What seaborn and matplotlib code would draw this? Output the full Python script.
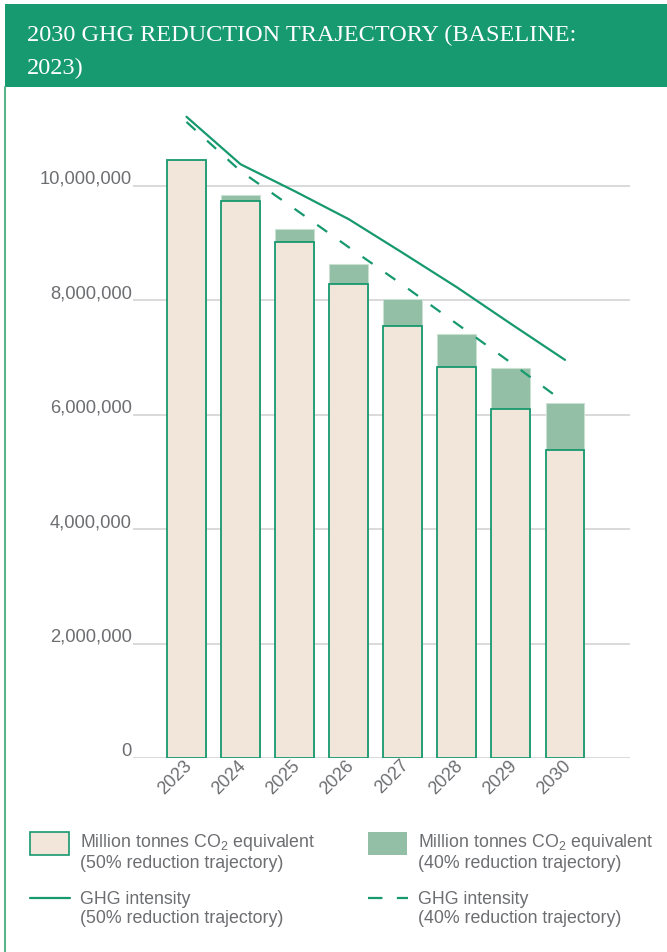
import matplotlib
matplotlib.use("Agg")
import matplotlib.pyplot as plt
import matplotlib.transforms as mtrans
from matplotlib.patches import Rectangle
from matplotlib.lines import Line2D
import numpy as np
import pandas as pd
import seaborn as sns

# ---------------- data ----------------
years = ["2023", "2024", "2025", "2026", "2027", "2028", "2029", "2030"]
emissions_50 = [10460000, 9730000, 9020000, 8290000, 7550000, 6830000, 6110000, 5390000]
emissions_40 = [10460000, 9840000, 9250000, 8640000, 8020000, 7410000, 6820000, 6200000]
intensity_50 = [11210000, 10380000, 9910000, 9420000, 8830000, 8230000, 7590000, 6960000]
intensity_40 = [11120000, 10260000, 9600000, 8930000, 8270000, 7590000, 6910000, 6210000]
y_ticks = [0, 2000000, 4000000, 6000000, 8000000, 10000000]
title = "2030 GHG REDUCTION TRAJECTORY (BASELINE:\n2023)"
legend_labels = [
    "Million tonnes CO$_\\mathrm{2}$ equivalent\n(50% reduction trajectory)",
    "Million tonnes CO$_\\mathrm{2}$ equivalent\n(40% reduction trajectory)",
    "GHG intensity\n(50% reduction trajectory)",
    "GHG intensity\n(40% reduction trajectory)",
]

df = pd.DataFrame({"year": years, "e50": emissions_50, "e40": emissions_40})
pos = np.arange(len(years))

# ---------------- style ----------------
sns.set_theme(style="white")
plt.rcParams["font.family"] = ["Liberation Sans", "DejaVu Sans"]
plt.rcParams["mathtext.fontset"] = "custom"
plt.rcParams["mathtext.rm"] = "Liberation Sans"
plt.rcParams["mathtext.it"] = "Liberation Sans:italic"

GREEN = "#17996f"
GREEN_BAR = "#93bfa6"
BEIGE = "#f1e6d9"
GRID = "#d9d9d9"
TEXT = "#6d6e71"

W, H = 667, 953
fig = plt.figure(figsize=(W / 100, H / 100), dpi=100)
fig.patch.set_facecolor("white")

def fx(px):
    return px / W

def fy(py):
    return 1 - py / H

# axes geometry
ax_left, ax_right = 133, 630
ax_bottom, ax_top = 759, 101.2
ax = fig.add_axes([fx(ax_left), fy(ax_bottom), (ax_right - ax_left) / W, (ax_bottom - ax_top) / H])
ax.set_facecolor("none")

center0, step = 186.5, 54.07
xl = (ax_left - center0) / step
xr = (ax_right - center0) / step

# grid lines
for t in y_ticks:
    ax.axhline(t, color=GRID, lw=1.4, zorder=0)

# bars
sns.barplot(data=df, x="year", y="e40", color=GREEN_BAR, width=0.72, saturation=1,
            edgecolor="#c9e0d2", linewidth=0.8, ax=ax, zorder=2)
sns.barplot(data=df, x="year", y="e50", color=BEIGE, width=0.72, saturation=1,
            edgecolor=GREEN, linewidth=1.3, ax=ax, zorder=3)

# lines
sns.lineplot(x=pos, y=intensity_50, color=GREEN, lw=1.6, ax=ax, zorder=4)
sns.lineplot(x=pos, y=intensity_40, color=GREEN, lw=1.6, ax=ax, zorder=4,
             linestyle=(0, (5.5, 7)))

ax.set_xlim(xl, xr)
ax.set_ylim(0, 11500000)
ax.set_xlabel("")
ax.set_ylabel("")
ax.set_xticks([])
ax.set_yticks([])
for s in ax.spines.values():
    s.set_visible(False)

# y tick labels
for t in y_ticks:
    tr = mtrans.offset_copy(ax.transData, fig=fig, x=-1, y=3, units="dots")
    ax.text(xl, t, f"{t:,}", transform=tr, ha="right", va="baseline",
            fontsize=13.2, color=TEXT, clip_on=False)

# x tick labels
for i, y in enumerate(years):
    tr = mtrans.offset_copy(ax.transData, fig=fig, x=3, y=-4, units="dots")
    ax.text(i, 0, y, transform=tr, rotation=45, ha="right", va="center",
            rotation_mode="anchor", fontsize=13, color=TEXT, clip_on=False)

# title band and left border
fig.add_artist(Rectangle((fx(5), fy(88)), 1 - fx(5), (88 - 5) / H,
                         transform=fig.transFigure, facecolor="#179a70", edgecolor="none"))
fig.add_artist(Line2D([fx(5), fx(5)], [fy(88), 0], transform=fig.transFigure,
                      color="#5cb48f", lw=1.5))
fig.text(fx(27), fy(52), title, ha="left", va="center", color="white",
         fontsize=17.5, family=["Liberation Serif", "DejaVu Serif"], linespacing=1.75)

# legend
fig.add_artist(Rectangle((fx(30), fy(856)), 39 / W, 23 / H, transform=fig.transFigure,
                         facecolor=BEIGE, edgecolor=GREEN, lw=1.2))
fig.add_artist(Rectangle((fx(368), fy(856)), 39 / W, 23 / H, transform=fig.transFigure,
                         facecolor=GREEN_BAR, edgecolor="none"))
fig.add_artist(Line2D([fx(30), fx(70)], [fy(899), fy(899)], transform=fig.transFigure,
                      color=GREEN, lw=1.6))
fig.add_artist(Line2D([fx(368), fx(408)], [fy(899), fy(899)], transform=fig.transFigure,
                      color=GREEN, lw=1.6, linestyle=(0, (6.5, 6.5))))
for (x, y), lab in zip([(80, 852), (418, 852), (80, 909), (418, 909)], legend_labels):
    fig.text(fx(x), fy(y), lab, ha="left", va="center", fontsize=12.8, color=TEXT,
             linespacing=1.22)

fig.savefig("out.png", dpi=100, facecolor="white")
